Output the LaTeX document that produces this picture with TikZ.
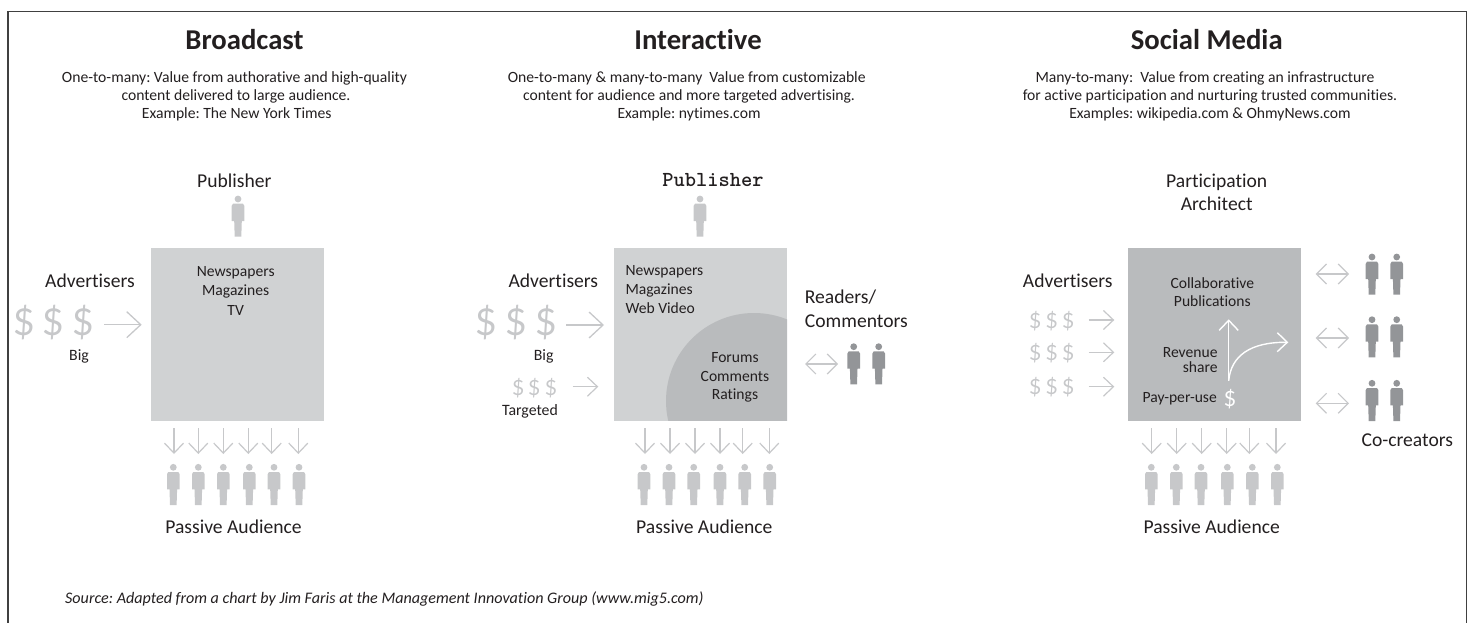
\documentclass[tikz,border=0pt]{standalone}
\usepackage{fontspec}
\setmainfont[Ligatures=NoCommon]{Carlito}
\newfontfamily\dolfont{Lato}
\usetikzlibrary{arrows.meta}
\frenchspacing
\definecolor{ink}{HTML}{231F20}
\definecolor{boxA}{HTML}{D0D2D3}
\definecolor{boxB}{HTML}{B9BBBD}
\definecolor{figA}{HTML}{C7C8CA}
\definecolor{figB}{HTML}{939598}
\definecolor{arrowgray}{HTML}{C7C8CA}
\newcommand{\person}[4]{%
 \coordinate (#1) at (#2,#3);
 \begin{scope}[shift={(#1)}]
 \fill[#4] (0,0) circle (3.4);
 \fill[#4] (-6.3,6.8) -- (-6.3,22) -- (-3.8,22) -- (-3.3,37.7) -- (3.3,37.7) -- (3.8,22) -- (6.3,22) -- (6.3,6.8) -- (5,4.7) -- (-5,4.7) -- cycle;
 \end{scope}}
\newcommand{\conn}[7]{%
 \coordinate (#1a) at (#3,#4);
 \coordinate (#1b) at (#5,#6);
 \draw[#2,#7] (#1a) -- (#1b);}
\tikzset{
 lab/.style={anchor=base,inner sep=0pt,yshift=-1pt,text=ink,font=\fontsize{19.6}{24}\selectfont},
 mid/.style={anchor=base,inner sep=0pt,text=ink,font=\fontsize{15.6}{20}\selectfont},
 small/.style={anchor=base,inner sep=0pt,text=ink,font=\fontsize{15.8}{20}\selectfont},
 titl/.style={anchor=base,inner sep=0pt,text=ink,font=\fontsize{28.7}{34}\selectfont\bfseries},
 body/.style={anchor=base,inner sep=0pt,yshift=-0.7pt,text=ink,font=\fontsize{15.65}{18}\selectfont},
 dolbig/.style={anchor=center,inner sep=0pt,text=arrowgray,font=\dolfont\fontsize{37}{40}\selectfont},
 dolsm/.style={anchor=center,inner sep=0pt,text=arrowgray,font=\dolfont\fontsize{21}{22}\selectfont},
 big/.style={draw=arrowgray,line width=1.3pt,-{Straight Barb[length=14pt,width=26pt,line width=1.3pt]}},
 downa/.style={draw=arrowgray,line width=1.2pt,-{Straight Barb[length=10pt,width=19pt,line width=1.2pt]}},
 both/.style={draw=arrowgray,line width=1.2pt,{Straight Barb[length=10pt,width=20pt,line width=1.2pt]}-{Straight Barb[length=10pt,width=20pt,line width=1.2pt]}},
 whitea/.style={draw=white,line width=1.4pt,-{Straight Barb[length=10pt,width=19pt,line width=1.4pt]}},
 sq/.style={anchor=north west,minimum width=173pt,minimum height=172.7pt,inner sep=0pt,outer sep=0pt},
}
\begin{document}
\begin{tikzpicture}[x=1pt,y=-1pt]
\useasboundingbox (0,0) rectangle (1472,623);
\coordinate (f1) at (8,623); \coordinate (f2) at (8,11.5); \coordinate (f3) at (1466.5,11.5); \coordinate (f4) at (1466.5,623);
\draw[color=black!75,line width=1.3pt] (f1) -- (f2) -- (f3) -- (f4);
% titles
\node[titl] (t1) at (244.5,50) {Broadcast};
\node[titl] (t2) at (698,50) {Interactive};
\node[titl] (t3) at (1206.7,50) {Social Media};
\node[body] (b11) at (234.5,82) {One-to-many: Value from authorative and high-quality};
\node[body] (b12) at (236,100) {content delivered to large audience.};
\node[body] (b13) at (236.7,118) {Example: The New York Times};
\node[body] (b21) at (686.7,82) {One-to-many \& many-to-many\ \ Value from customizable};
\node[body] (b22) at (689,100) {content for audience and more targeted advertising.};
\node[body] (b23) at (689,118) {Example: nytimes.com};
\node[body] (b31) at (1205,82) {Many-to-many:\ \ Value from creating an infrastructure};
\node[body] (b32) at (1210,100) {for active participation and nurturing trusted communities.};
\node[body] (b33) at (1210,118) {Examples: wikipedia.com \& OhmyNews.com};
% boxes
\node[sq,fill=boxA] (box1) at (151,248) {};
\node[sq,fill=boxA] (box2) at (614,248) {};
\node[sq,fill=boxB] (box3) at (1128,248) {};
\begin{scope}
\clip (box2.north west) rectangle (box2.south east);
\fill[boxB] (754,401) circle (88);
\end{scope}
% panel 1
\node[lab] (pub1) at (234.3,186) {Publisher};
\person{pp1}{238}{199}{figA}
\node[lab] (adv1) at (90,286.7) {Advertisers};
\node[dolbig] (d11) at (24,323) {\$};
\node[dolbig] (d12) at (53,323) {\$};
\node[dolbig] (d13) at (83,323) {\$};
\conn{a1}{big}{104}{324.7}{141.7}{324.7}{}
\node[small] (big1) at (79,360) {Big};
\node[mid] (n11) at (235.7,276.7) {Newspapers};
\node[mid] (n12) at (235.7,295.7) {Magazines};
\node[mid] (n13) at (235.7,315) {TV};
\foreach \i/\x in {1/174,2/198.3,3/223.3,4/248.3,5/271.7,6/298.3}{\conn{da\i}{downa}{\x}{428}{\x}{454}{}}
\foreach \i/\x in {1/173.3,2/198.3,3/223.3,4/249.3,5/274,6/299}{\person{pa\i}{\x}{467.3}{figA}}
\node[lab] (pa) at (233.5,532.7) {Passive Audience};
% panel 2
\node[anchor=base,inner sep=0pt,text=ink,font=\ttfamily\bfseries\fontsize{21.4}{24}\selectfont] (pub2) at (713,186) {Publisher};
\person{pp2}{700}{199}{figA}
\node[lab] (adv2) at (553.3,286.7) {Advertisers};
\node[dolbig] (d21) at (486.7,323) {\$};
\node[dolbig] (d22) at (516,323) {\$};
\node[dolbig] (d23) at (546.7,323) {\$};
\conn{a2}{big}{566}{325}{604}{325}{}
\node[small] (big2) at (543.7,360) {Big};
\node[dolsm] (s21) at (518.3,388.3) {\$};
\node[dolsm] (s22) at (534.3,388.3) {\$};
\node[dolsm] (s23) at (551,388.3) {\$};
\conn{a3}{downa}{572.7}{386.7}{598.3}{386.7}{}
\node[small] (tg) at (530,415) {Targeted};
\node[mid,anchor=base west] (n21) at (625.3,275) {Newspapers};
\node[mid,anchor=base west] (n22) at (625.3,294) {Magazines};
\node[mid,anchor=base west] (n23) at (625.3,313) {Web Video};
\node[mid] (f21) at (735,362.5) {Forums};
\node[mid] (f22) at (735,381.2) {Comments};
\node[mid] (f23) at (735,399.5) {Ratings};
\node[lab,anchor=base west] (rd1) at (804.7,302.7) {Readers/};
\node[lab,anchor=base west] (rd2) at (804.7,326) {Commentors};
\conn{rb}{both}{805}{364}{838}{364}{}
\person{rp1}{853.7}{346.7}{figB}
\person{rp2}{878.7}{346.7}{figB}
\foreach \i/\x in {1/645,2/670,3/695,4/720,5/742.7,6/769.3}{\conn{db\i}{downa}{\x}{428}{\x}{454}{}}
\foreach \i/\x in {1/644,2/669,3/693.7,4/720,5/744.7,6/769.7}{\person{pb\i}{\x}{467.3}{figA}}
\node[lab] (pb) at (704.3,532.7) {Passive Audience};
% panel 3
\node[lab] (pub31) at (1216.7,186) {Participation};
\node[lab] (pub32) at (1216.7,209) {Architect};
\node[lab] (adv3) at (1067.7,286.7) {Advertisers};
\foreach \r/\y/\ya in {1/320.7/320,2/353.3/352.3,3/386.7/386.7}{
 \node[dolsm] (s3\r a) at (1035.3,\y) {\$};
 \node[dolsm] (s3\r b) at (1051.7,\y) {\$};
 \node[dolsm] (s3\r c) at (1068.3,\y) {\$};
 \conn{ar\r}{downa}{1088.7}{\ya}{1114.3}{\ya}{}
}
\node[mid] (c1) at (1212.3,288.3) {Collaborative};
\node[mid] (c2) at (1212.3,306.7) {Publications};
\node[mid,anchor=base east] (r1) at (1217.7,357.7) {Revenue};
\node[mid,anchor=base east] (r2) at (1217.7,372.7) {share};
\node[mid,anchor=base east] (ppu) at (1217,402) {Pay-per-use};
\node[dolsm,text=white] (dw) at (1230,398.7) {\$};
\coordinate (w0) at (1228.7,380.7);
\coordinate (w1) at (1228.7,319.3);
\coordinate (w2) at (1288.3,342.3);
\draw[whitea] (w0) -- (w1);
\draw[whitea] (w0) .. controls (1231,356) and (1250,342) .. (w2);
\foreach \r/\y/\yh in {1/274/257,2/338/319.7,3/403.3/383.3}{
 \conn{bo\r}{both}{1315.7}{\y}{1349}{\y}{}
 \person{c\r a}{1372}{\yh}{figB}
 \person{c\r b}{1396.7}{\yh}{figB}
}
\node[lab] (cc) at (1407.3,445) {Co-creators};
\foreach \i/\x in {1/1151.7,2/1176.7,3/1201.7,4/1226.7,5/1249.3,6/1276}{\conn{dc\i}{downa}{\x}{428}{\x}{454}{}}
\foreach \i/\x in {1/1151.3,2/1176.3,3/1201,4/1227.3,5/1252.3,6/1277.3}{\person{pc\i}{\x}{467.3}{figA}}
\node[lab] (pc) at (1211.7,532.7) {Passive Audience};
% source
\node[anchor=base west,inner sep=0pt,text=ink,font=\itshape\fontsize{16.1}{18}\selectfont] (src) at (65,603.7) {Source: Adapted from a chart by Jim Faris at the Management Innovation Group (www.mig5.com)};
\end{tikzpicture}
\end{document}
